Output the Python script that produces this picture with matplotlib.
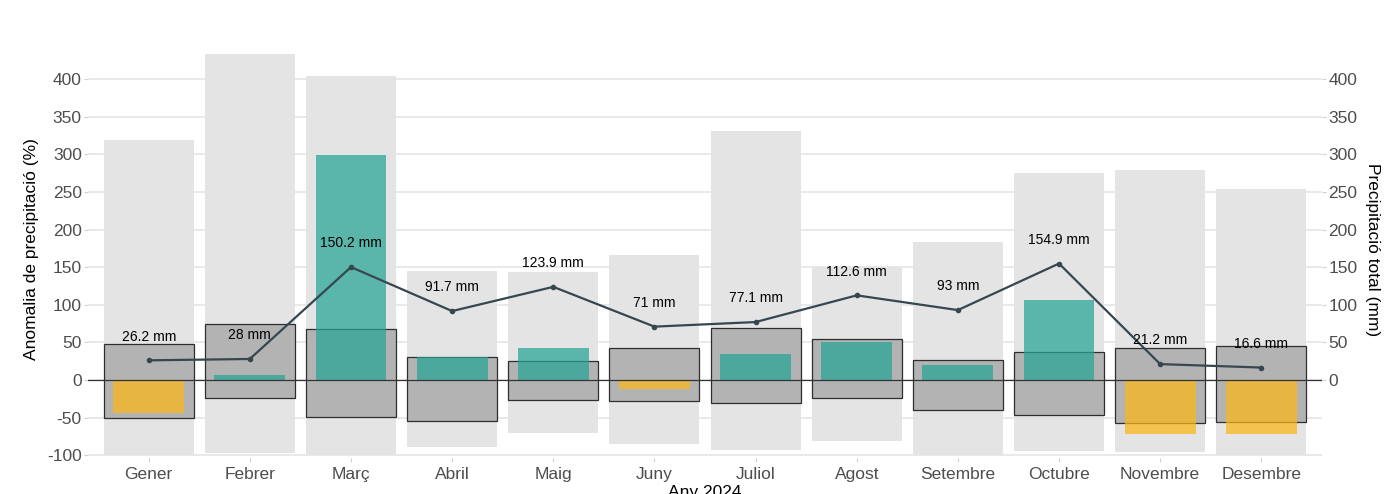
import matplotlib
matplotlib.use("Agg")
import matplotlib.pyplot as plt
import numpy as np

months = ["Gener", "Febrer", "Març", "Abril", "Maig", "Juny", "Juliol",
          "Agost", "Setembre", "Octubre", "Novembre", "Desembre"]
# historical range of anomaly (%) - light gray bars
range_max = [319, 433, 404, 145, 144, 166, 331, 150, 183, 275, 279, 254]
range_min = [-100, -97, -100, -89, -70, -85, -93, -81, -100, -94, -96, -100]
# interquartile-like band (%) - dark gray boxes
box_max = [48, 74, 68, 31, 25, 43, 69, 54, 27, 37, 42, 45]
box_min = [-50, -24, -49, -54, -26, -28, -31, -24, -40, -46, -57, -56]
# 2024 anomaly (%)
anomaly = [-44, 7, 299, 31, 43, -12, 35, 51, 20, 106, -72, -72]
# total precipitation (mm)
precip = [26.2, 28, 150.2, 91.7, 123.9, 71, 77.1, 112.6, 93, 154.9, 21.2, 16.6]
precip_labels = ["26.2 mm", "28 mm", "150.2 mm", "91.7 mm", "123.9 mm", "71 mm",
                 "77.1 mm", "112.6 mm", "93 mm", "154.9 mm", "21.2 mm", "16.6 mm"]
yticks = [-100, -50, 0, 50, 100, 150, 200, 250, 300, 350, 400]
yticks_right = [0, 50, 100, 150, 200, 250, 300, 350, 400]

plt.rcParams['font.family'] = ['Liberation Sans', 'DejaVu Sans']
plt.rcParams['axes.unicode_minus'] = False

fig = plt.figure(figsize=(13.93, 4.94), dpi=100)
ax = fig.add_axes([88 / 1393, (494 - 457.5) / 494, (1322 - 88) / 1393, 415.9 / 494])

x = np.arange(len(months))
rmax = np.array(range_max); rmin = np.array(range_min)
bmax = np.array(box_max); bmin = np.array(box_min)
an = np.array(anomaly)

ax.set_axisbelow(True)
ax.grid(axis='y', color='#e3e3e3', linewidth=1.1)
ax.bar(x, rmax - rmin, bottom=rmin, width=0.89, color='#e4e4e4', zorder=1)
ax.bar(x, bmax - bmin, bottom=bmin, width=0.89, color='#b3b3b3',
       edgecolor='#2e2e2e', linewidth=0.9, zorder=2)
colors = ['#25a595' if v >= 0 else '#fbb716' for v in anomaly]
ax.bar(x, an, width=0.70, color=colors, alpha=0.72, zorder=3)
ax.axhline(0, color='#333333', linewidth=0.9, zorder=4)

ax.plot(x, precip, color='#37474f', linewidth=1.6, marker='o', markersize=3, zorder=5)
for xi, v, lab in zip(x, precip, precip_labels):
    ax.annotate(lab, (xi, v), xytext=(0, 17), textcoords='offset points',
                ha='center', va='center', fontsize=10, color='black', zorder=6)

ax.set_xlim(-0.6, 11.6)
ax.set_ylim(-103, 450)
ax.set_yticks(yticks)
ax.set_xticks(x)
ax.set_xticklabels(months)
for s in ax.spines.values():
    s.set_visible(False)
ax.tick_params(axis='both', colors='#d0d0d0', labelcolor='#4d4d4d', labelsize=12.5, length=3)
ax.tick_params(axis='y', pad=1.5)
ax.tick_params(axis='x', pad=4)
ax.set_ylabel("Anomalia de precipitació (%)", fontsize=12.5, color='black', labelpad=6)
ax.set_xlabel("Any 2024", fontsize=12.5, color='black', labelpad=2)

ax2 = ax.twinx()
ax2.set_ylim(ax.get_ylim())
ax2.set_yticks(yticks_right)
for s in ax2.spines.values():
    s.set_visible(False)
ax2.tick_params(axis='y', colors='#d0d0d0', labelcolor='#4d4d4d', labelsize=12.5, length=3, pad=1.5)
ax2.set_ylabel("Precipitació total (mm)", fontsize=12.5, color='black', rotation=270, labelpad=16)

fig.savefig("out.png", dpi=100)
